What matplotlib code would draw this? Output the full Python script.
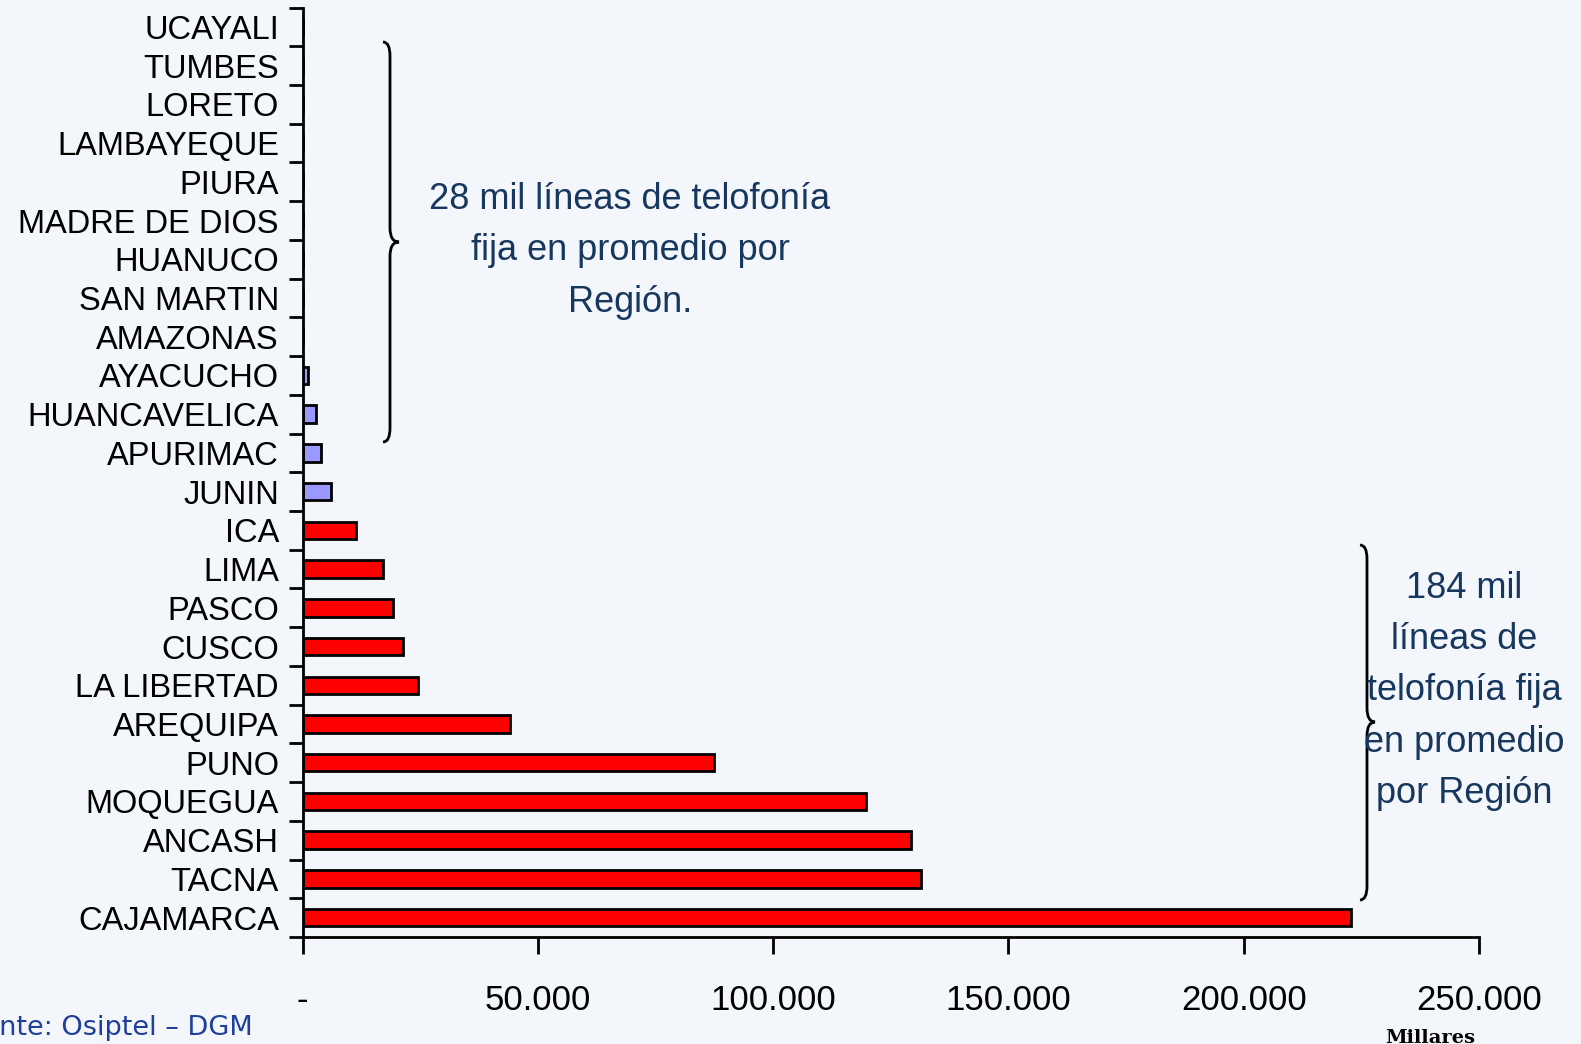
import matplotlib.pyplot as plt
from matplotlib.path import Path
from matplotlib.patches import PathPatch

# Data (bottom to top)
regiones = ["CAJAMARCA", "TACNA", "ANCASH", "MOQUEGUA", "PUNO", "AREQUIPA",
            "LA LIBERTAD", "CUSCO", "PASCO", "LIMA", "ICA", "JUNIN", "APURIMAC",
            "HUANCAVELICA", "AYACUCHO", "AMAZONAS", "SAN MARTIN", "HUANUCO",
            "MADRE DE DIOS", "PIURA", "LAMBAYEQUE", "LORETO", "TUMBES", "UCAYALI"]
lineas = [222800, 131500, 129400, 119700, 87400, 44100,
          24600, 21400, 19300, 17100, 11400, 6000, 3900,
          2800, 1100, 0, 0, 0,
          0, 0, 0, 0, 0, 0]
grupo = ["alto"] * 11 + ["bajo"] * 13
x_ticks = [0, 50000, 100000, 150000, 200000, 250000]
x_labels = ["-", "50.000", "100.000", "150.000", "200.000", "250.000"]

texto_bajo = "28 mil líneas de telofonía\nfija en promedio por\nRegión."
texto_alto = "184 mil\nlíneas de\ntelofonía fija\nen promedio\npor Región"

W, H = 1581, 1044
bg = "#F3F6FA"
plt.rcParams['font.family'] = ['Liberation Sans', 'DejaVu Sans']

fig = plt.figure(figsize=(W / 100, H / 100), dpi=100, facecolor=bg)
ax = fig.add_axes([302.5 / W, 1 - 937 / H, (1479 - 302.5) / W, (937 - 7.5) / H])
ax.set_facecolor(bg)

colores = ["#FF0000" if g == "alto" else "#9999FF" for g in grupo]
ypos = list(range(len(regiones)))
ax.barh(ypos, lineas, height=0.45, color=colores, edgecolor="black", linewidth=2)

ax.set_ylim(-0.5, len(regiones) - 0.5)
ax.set_xlim(0, 250000)

ax.set_yticks(ypos)
ax.set_yticklabels(regiones, fontsize=23.5)
ax.set_yticks([i - 0.5 for i in range(len(regiones) + 1)], minor=True)
ax.tick_params(axis="y", which="major", length=0, pad=17)
ax.tick_params(axis="y", which="minor", length=10, width=2, direction="out")

ax.set_xticks(x_ticks)
ax.set_xticklabels(x_labels, fontsize=25)
ax.tick_params(axis="x", which="major", length=12, width=2, direction="out", pad=22)

for s in ["top", "right"]:
    ax.spines[s].set_visible(False)
for s in ["left", "bottom"]:
    ax.spines[s].set_linewidth(2)


def brace(x0, xv, xtip, ytop, ymid, ybot, r=14):
    pts = [(x0, ytop), (xv, ytop), (xv, ytop + r),
           (xv, ymid - r),
           (xv, ymid), (xtip, ymid),
           (xv, ymid), (xv, ymid + r),
           (xv, ybot - r),
           (xv, ybot), (x0, ybot)]
    codes = [Path.MOVETO, Path.CURVE3, Path.CURVE3,
             Path.LINETO,
             Path.CURVE3, Path.CURVE3,
             Path.CURVE3, Path.CURVE3,
             Path.LINETO,
             Path.CURVE3, Path.CURVE3]
    pts = [(x / W, 1 - y / H) for x, y in pts]
    fig.patches.append(PathPatch(Path(pts, codes), transform=fig.transFigure,
                                 fill=False, lw=2, edgecolor="black"))


brace(383, 390, 399, 42, 242, 442)
brace(1360, 1367, 1375, 545, 722, 900)

azul = "#17375E"
fig.text(630 / W, 1 - 251 / H, texto_bajo, ha="center", va="center",
         fontsize=26, color=azul, linespacing=1.6)
fig.text(1464 / W, 1 - 691 / H, texto_alto, ha="center", va="center",
         fontsize=26, color=azul, linespacing=1.6)

fig.text(-49 / W, 1 - 1028 / H, "Fuente: Osiptel – DGM", ha="left", va="center",
         fontsize=19.5, color="#1F3F9A", family="DejaVu Sans")
fig.text(1430 / W, 1 - 1029 / H, "Millares", ha="center", va="top",
         fontsize=14, fontweight="bold", family="DejaVu Serif", color="black")

fig.savefig("out.png", dpi=100, facecolor=bg)
